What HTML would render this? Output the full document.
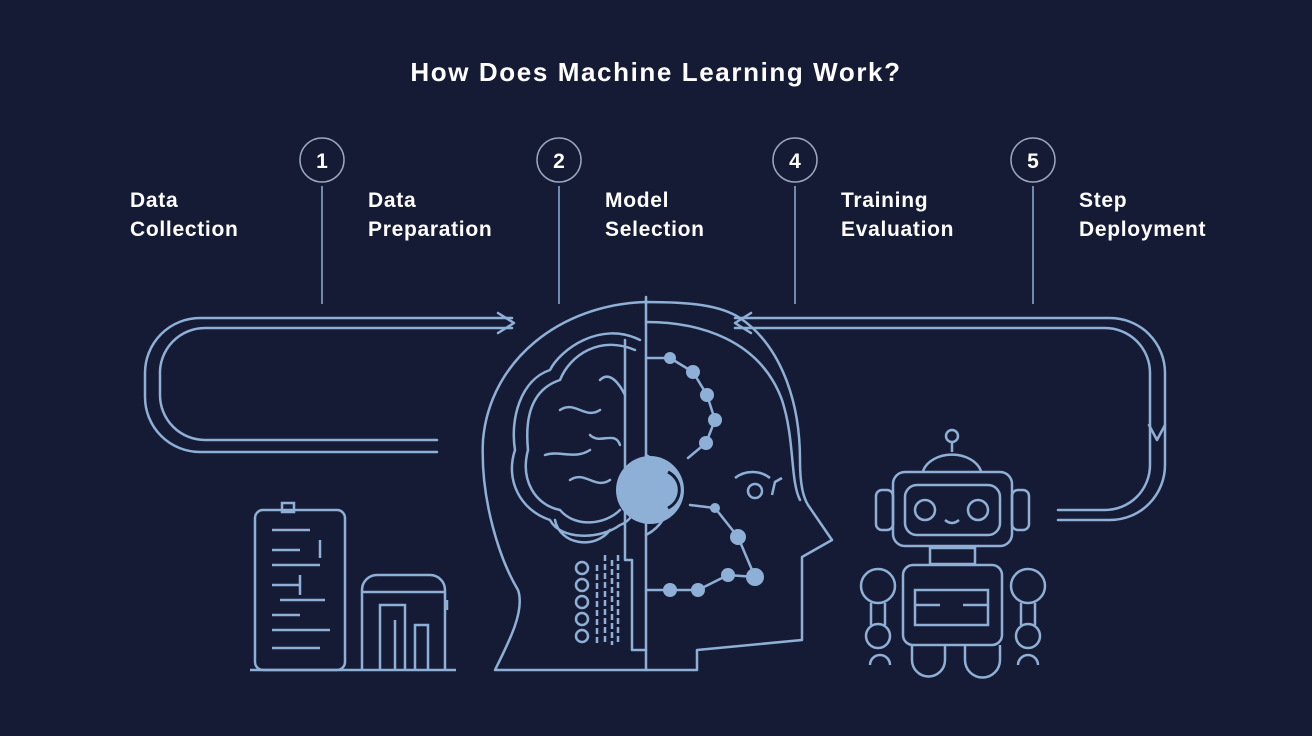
<!DOCTYPE html>
<html><head><meta charset="utf-8"><style>
html,body{margin:0;padding:0;background:#161b35;}
svg{display:block}
text{font-family:"Liberation Sans",sans-serif;font-weight:bold;fill:#fff}
</style></head><body>
<svg width="1312" height="736" viewBox="0 0 1312 736">
<rect width="1312" height="736" fill="#161b35"/>
<text x="656" y="81" font-size="26" letter-spacing="1.6" text-anchor="middle">How Does Machine Learning Work?</text>
<g stroke="#8fb0d6" stroke-width="1.5" fill="none">
<line x1="322" y1="186" x2="322" y2="304"/><line x1="559" y1="186" x2="559" y2="304"/>
<line x1="795" y1="186" x2="795" y2="304"/><line x1="1033" y1="186" x2="1033" y2="304"/>
</g>
<g stroke="#9aa6c0" stroke-width="1.5" fill="#161b35">
<circle cx="322" cy="160" r="22"/><circle cx="559" cy="160" r="22"/><circle cx="795" cy="160" r="22"/><circle cx="1033" cy="160" r="22"/>
</g>
<g font-size="21" text-anchor="middle"><text x="322" y="168">1</text><text x="559" y="168">2</text><text x="795" y="168">4</text><text x="1033" y="168">5</text></g>
<g font-size="21" letter-spacing="0.7">
<text x="130" y="207">Data</text><text x="130" y="236">Collection</text>
<text x="368" y="207">Data</text><text x="368" y="236">Preparation</text>
<text x="605" y="207">Model</text><text x="605" y="236">Selection</text>
<text x="841" y="207">Training</text><text x="841" y="236">Evaluation</text>
<text x="1079" y="207">Step</text><text x="1079" y="236">Deployment</text>
</g>
<g stroke="#8fb0d6" stroke-width="2.5" fill="none" stroke-linecap="round" stroke-linejoin="round">
<path d="M437 452 H200 A55 55 0 0 1 145 397 V373 A55 55 0 0 1 200 318 H512"/>
<path d="M437 440 H205 A45 45 0 0 1 160 395 V375 A45 45 0 0 1 205 328 H512"/>
<path d="M498 313 L514 323 L498 333"/>
<path d="M735 318 H1110 A55 55 0 0 1 1165 373 V465 A55 55 0 0 1 1110 520 H1058"/>
<path d="M735 328 H1105 A45 45 0 0 1 1150 373 V465 A45 45 0 0 1 1105 510 H1058"/>
<path d="M751 313 L735 323 L751 333"/>
<path d="M1149 425 L1157 440 L1165 425"/>
<path d="M495 670 C510 640 525 610 518 590 C500 560 480 500 483 440 C490 360 560 305 645 302 C690 302 720 305 740 318 C780 345 800 400 800 460 C800 490 805 500 808 505 L832 540 L802 557 L802 640 L697 650 L697 670 Z"/>
<path d="M646 322 C700 322 760 340 782 400 C795 440 790 480 800 500"/>
<line x1="646" y1="297" x2="646" y2="670"/>
<path d="M646 455 A45 45 0 0 1 646 535"/>
<path d="M646 358 L670 358 L693 372 L707 395 L715 420 L706 443 L688 458"/>
<path d="M690 505 L715 508 L738 537 L755 577 L728 575 L698 590 L670 590 L646 590"/>
<path d="M640 340 C600 320 560 350 550 370 C520 380 510 420 515 450 C505 480 520 510 550 520 C560 540 600 540 620 525 C635 520 640 500 640 480"/>
<path d="M635 350 C600 335 570 355 560 380 C530 390 525 420 528 450 C520 480 535 505 560 510 C575 528 605 525 620 510"/>
<path d="M560 410 C575 400 585 420 600 410 M545 455 C560 450 575 460 590 450 M600 380 C610 370 620 385 625 395 M570 480 C585 470 595 490 610 480 M590 435 C600 445 615 430 620 445"/>
<path d="M555 520 C560 545 595 550 610 530"/>
<path d="M625 340 V560 L632 560 V650 L646 650"/>
</g>
<g fill="#8fb0d6">
<circle cx="650" cy="490" r="34"/>
<circle cx="670" cy="358" r="6"/><circle cx="693" cy="372" r="7"/><circle cx="707" cy="395" r="7"/><circle cx="715" cy="420" r="7"/><circle cx="706" cy="443" r="7"/>
<circle cx="715" cy="508" r="5"/><circle cx="738" cy="537" r="8"/><circle cx="755" cy="577" r="9"/><circle cx="728" cy="575" r="7"/><circle cx="698" cy="590" r="7"/><circle cx="670" cy="590" r="7"/>
</g>
<g stroke="#161b35" stroke-width="3" fill="none"><path d="M668 472 A20 20 0 0 1 668 508"/></g>
<g stroke="#8fb0d6" stroke-width="2.5" fill="none">
<circle cx="755" cy="491" r="7"/><path d="M735 478 C745 470 760 470 770 478 M772 495 L775 482 L782 478"/>
<circle cx="582" cy="568" r="6"/><circle cx="582" cy="585" r="6"/><circle cx="582" cy="602" r="6"/><circle cx="582" cy="619" r="6"/><circle cx="582" cy="636" r="6"/>
<path d="M597 565 V645 M605 555 V645 M612 560 V645 M618 555 V645" stroke-dasharray="6 3"/>
<line x1="250" y1="670" x2="456" y2="670"/>
<rect x="255" y="510" width="90" height="160" rx="8"/>
<rect x="282" y="503" width="12" height="9"/>
<path d="M272 530 H310 M272 550 H300 M272 565 H320 M272 585 H300 M280 600 H325 M272 615 H300 M272 630 H330 M272 648 H320 M320 540 V558 M300 575 V595"/>
<path d="M362 670 V590 A15 15 0 0 1 377 575 H430 A15 15 0 0 1 445 590 V670"/>
<line x1="362" y1="592" x2="445" y2="592"/>
<path d="M380 670 V605 H405 V670 M395 670 V620 M415 670 V625 H428 V670"/>
<line x1="447" y1="600" x2="447" y2="610"/>
<circle cx="952" cy="436" r="6"/><line x1="952" y1="442" x2="952" y2="452"/>
<path d="M923 471 A30 22 0 0 1 981 471"/>
<rect x="893" y="472" width="119" height="74" rx="12"/>
<rect x="905" y="485" width="95" height="50" rx="12"/>
<circle cx="925" cy="510" r="10"/><circle cx="978" cy="510" r="10"/>
<path d="M945 520 Q952 526 959 520"/>
<rect x="876" y="490" width="17" height="40" rx="6"/><rect x="1012" y="490" width="17" height="40" rx="6"/>
<rect x="930" y="548" width="45" height="16"/>
<rect x="903" y="565" width="99" height="80" rx="10"/>
<rect x="915" y="590" width="73" height="35"/>
<path d="M915 605 H940 M963 605 H988"/>
<circle cx="878" cy="586" r="17"/><circle cx="1028" cy="586" r="17"/>
<path d="M871 603 V625 M885 603 V625 M1021 603 V625 M1035 603 V625"/>
<circle cx="878" cy="636" r="12"/><circle cx="1028" cy="636" r="12"/>
<path d="M870 665 A10 10 0 0 1 890 665 M1018 665 A10 10 0 0 1 1038 665"/>
<path d="M912 645 V660 A12 12 0 0 0 945 660 V645 M965 645 V660 A12 12 0 0 0 1000 660 V645"/>
</g>
</svg>
</body></html>
